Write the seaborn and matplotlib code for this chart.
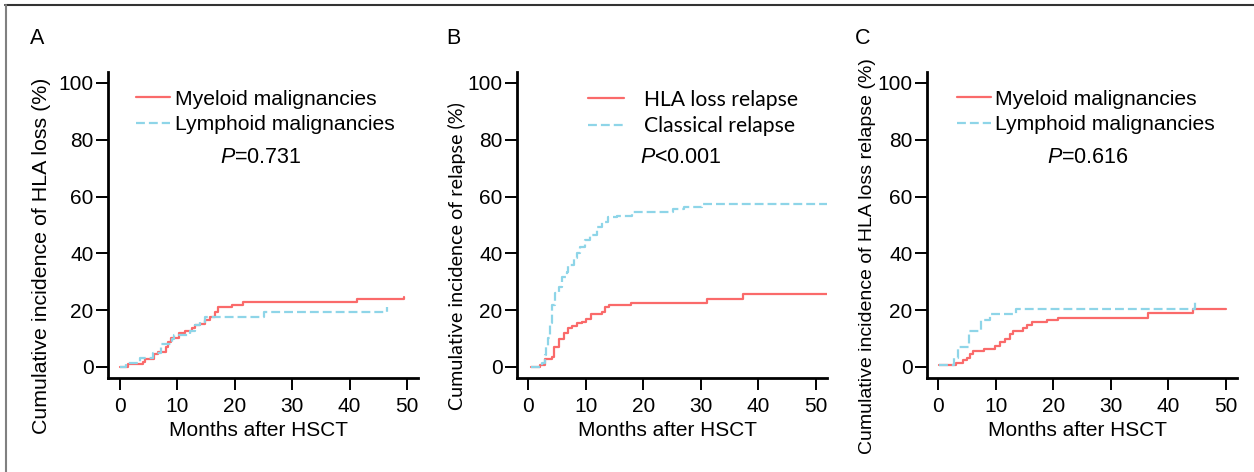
import matplotlib
matplotlib.use("Agg")
import matplotlib.pyplot as plt
from matplotlib.lines import Line2D
import seaborn as sns
import pandas as pd

# ---------------- data ----------------
months_ticks = [0, 10, 20, 30, 40, 50]
pct_ticks = [0, 20, 40, 60, 80, 100]

# Panel A: cumulative incidence of HLA loss
a_mye_t = [0, 1.45, 4.0, 4.3, 6.0, 6.7, 8.0, 8.4, 8.9, 10.3, 11.3, 12.5, 13.1, 14.0, 14.8, 15.7, 16.5, 17.0, 19.5, 21.5, 38.3, 41.3, 49.5]
a_mye_v = [0, 0.9, 1.9, 2.7, 4.6, 5.4, 7.2, 8.9, 10.1, 11.9, 12.7, 13.6, 14.8, 15.3, 16.5, 17.7, 19.5, 21.0, 21.8, 22.8, 23.0, 23.8, 24.8]
a_lym_t = [0, 1.05, 3.5, 5.8, 7.1, 9.0, 9.4, 12.2, 13.1, 13.9, 14.8, 25.0, 46.6]
a_lym_v = [0, 1.5, 3.0, 4.8, 8.0, 9.7, 11.3, 12.7, 14.8, 16.0, 17.7, 19.5, 21.0]

# Panel B: cumulative incidence of relapse
b_hla_t = [0.6, 2.1, 2.95, 4.1, 4.6, 5.3, 6.25, 7.0, 7.6, 8.45, 9.3, 10.1, 10.9, 12.8, 13.4, 14.1, 17.9, 31.0, 37.4, 53.6]
b_hla_v = [0, 0.7, 2.7, 3.6, 7.2, 9.7, 12.1, 13.6, 14.4, 15.4, 16.0, 16.8, 18.7, 19.5, 21.0, 21.8, 22.4, 23.8, 25.7, 25.7]
b_cla_t = [0.6, 2.4, 2.95, 3.2, 3.5, 3.8, 4.1, 4.7, 5.3, 5.85, 6.7, 7.0, 7.9, 8.45, 9.0, 9.9, 10.8, 11.9, 12.8, 13.9, 15.4, 18.0, 25.2, 27.0, 30.2, 53.6]
b_cla_v = [0, 1.3, 4.2, 7.2, 10.1, 15.4, 21.8, 25.9, 28.3, 31.8, 33.6, 35.9, 38.3, 40.0, 42.4, 44.7, 46.5, 49.4, 51.2, 52.7, 53.3, 54.7, 55.5, 56.4, 57.4, 57.4]

# Panel C: cumulative incidence of HLA loss relapse
c_mye_t = [0.2, 3.1, 4.3, 5.1, 5.55, 6.0, 7.9, 9.9, 10.8, 11.6, 12.5, 13.1, 14.7, 15.5, 16.3, 18.9, 20.9, 36.5, 44.2, 50.0]
c_mye_v = [0.6, 1.4, 2.3, 3.2, 4.5, 5.6, 6.4, 7.3, 8.8, 10.0, 11.7, 12.6, 13.6, 14.7, 15.7, 16.5, 17.3, 18.9, 20.4, 20.4]
c_lym_t = [0.2, 2.7, 3.5, 5.4, 7.4, 9.1, 13.5, 44.7]
c_lym_v = [0.6, 3.0, 6.9, 12.8, 16.5, 18.7, 20.5, 23.9]

panel_letters = ["A", "B", "C"]
ylabels = ["Cumulative incidence of HLA loss (%)",
           "Cumulative incidence of relapse (%)",
           "Cumulative incidence of HLA loss relapse (%)"]
xlabel = "Months after HSCT"
legend_labels = [["Myeloid malignancies", "Lymphoid malignancies"],
                 ["HLA loss relapse", "Classical relapse"],
                 ["Myeloid malignancies", "Lymphoid malignancies"]]
p_values = ["=0.731", "<0.001", "=0.616"]

RED = "#FA6A6A"
CYAN = "#8ED5E8"

# ---------------- style ----------------
sns.set_theme(style="ticks")
plt.rcParams["font.family"] = ["Liberation Sans", "DejaVu Sans"]
plt.rcParams["mathtext.fontset"] = "custom"
plt.rcParams["mathtext.rm"] = "Liberation Sans"
plt.rcParams["mathtext.it"] = "Liberation Sans:italic"

W, H = 1254, 472
fig = plt.figure(figsize=(W / 100, H / 100), dpi=100)

panels = [
    dict(left=108, right=418, x0=120, xs=5.74),
    dict(left=517, right=827, x0=528, xs=5.76),
    dict(left=927, right=1237, x0=938, xs=5.76),
]
top_px, bot_px, y0_px, ys = 72, 378, 367, 2.84

series = [
    [(a_mye_t, a_mye_v), (a_lym_t, a_lym_v)],
    [(b_hla_t, b_hla_v), (b_cla_t, b_cla_v)],
    [(c_mye_t, c_mye_v), (c_lym_t, c_lym_v)],
]
legend_x = [(136 - 108) / 310, (588 - 517) / 310, (957 - 927) / 310]
legend_fs = [15.2, 15.2, 15.2]
legend_hl = [1.62, 1.7, 1.62]
legend_pad = [0.24, 0.95, 0.2]
p_x = [(220 - 108) / 310, (640 - 517) / 310, (1047 - 927) / 310]
letter_x = [30, 446, 855]
ylabel_fs = [15.4, 14.2, 14]
ylabel_x = [42, 457, 867]

for i, p in enumerate(panels):
    ax = fig.add_axes([p["left"] / W, 1 - bot_px / H, (p["right"] - p["left"]) / W, (bot_px - top_px) / H])
    xmin = (p["left"] - p["x0"]) / p["xs"]
    xmax = (p["right"] - p["x0"]) / p["xs"]
    ymax = (y0_px - top_px) / ys
    ymin = (y0_px - bot_px) / ys

    (t1, v1), (t2, v2) = series[i]
    d1 = pd.DataFrame({"t": t1, "v": v1})
    d2 = pd.DataFrame({"t": t2, "v": v2})
    sns.lineplot(data=d1, x="t", y="v", ax=ax, color=RED, lw=1.6, estimator=None,
                 drawstyle="steps-post", label=legend_labels[i][0])
    sns.lineplot(data=d2, x="t", y="v", ax=ax, color=CYAN, lw=1.6, estimator=None,
                 drawstyle="steps-post", linestyle=(0, (4, 1.8)), label=legend_labels[i][1])

    ax.set_xlim(xmin, xmax)
    ax.set_ylim(ymin, ymax)
    ax.set_xticks(months_ticks)
    ax.set_yticks(pct_ticks)
    ax.tick_params(axis="both", length=8.5, width=1.4, color="black", labelsize=15,
                   labelcolor="black")
    ax.tick_params(axis="y", pad=2)
    ax.tick_params(axis="x", pad=5)
    for s in ["top", "right"]:
        ax.spines[s].set_visible(False)
    for s in ["left", "bottom"]:
        ax.spines[s].set_linewidth(2.0)
        ax.spines[s].set_color("black")
    ax.set_facecolor("white")

    ax.set_xlabel(xlabel, fontsize=15, color="black")
    ax.xaxis.set_label_coords(0.486, -0.142)
    ax.xaxis.label.set_va("top")

    yl_fam = ["Lato", "DejaVu Sans"] if i == 1 else ["Liberation Sans", "DejaVu Sans"]
    ax.set_ylabel(ylabels[i], fontsize=ylabel_fs[i], color="black", family=yl_fam)
    ax.yaxis.set_label_coords((ylabel_x[i] - p["left"]) / 310, 0.40)
    ax.yaxis.label.set_va("center")

    fam = ["Lato", "DejaVu Sans"] if i == 1 else ["Liberation Sans", "DejaVu Sans"]
    leg = ax.legend(loc="upper left", bbox_to_anchor=(legend_x[i], 0.942), frameon=False,
                    handlelength=legend_hl[i], handletextpad=legend_pad[i], labelspacing=0.31,
                    borderpad=0, borderaxespad=0, prop={"family": fam, "size": legend_fs[i]})
    for txt in leg.get_texts():
        txt.set_color("black")

    ax.text(p_x[i], 0.722, r"$\mathit{P}$" + p_values[i], transform=ax.transAxes,
            fontsize=15.5, va="center", ha="left", color="black")

    fig.text(letter_x[i] / W, 1 - 39 / H, panel_letters[i], fontsize=15.5, va="center",
             ha="left", color="black")

# figure frame (top and left border)
fig.add_artist(Line2D([5 / W, 1], [1 - 5 / H, 1 - 5 / H], transform=fig.transFigure,
                      color="#333333", lw=1.5))
fig.add_artist(Line2D([5.5 / W, 5.5 / W], [0, 1 - 5 / H], transform=fig.transFigure,
                      color="#808080", lw=1.5))

fig.savefig("out.png", dpi=100, facecolor="white")
